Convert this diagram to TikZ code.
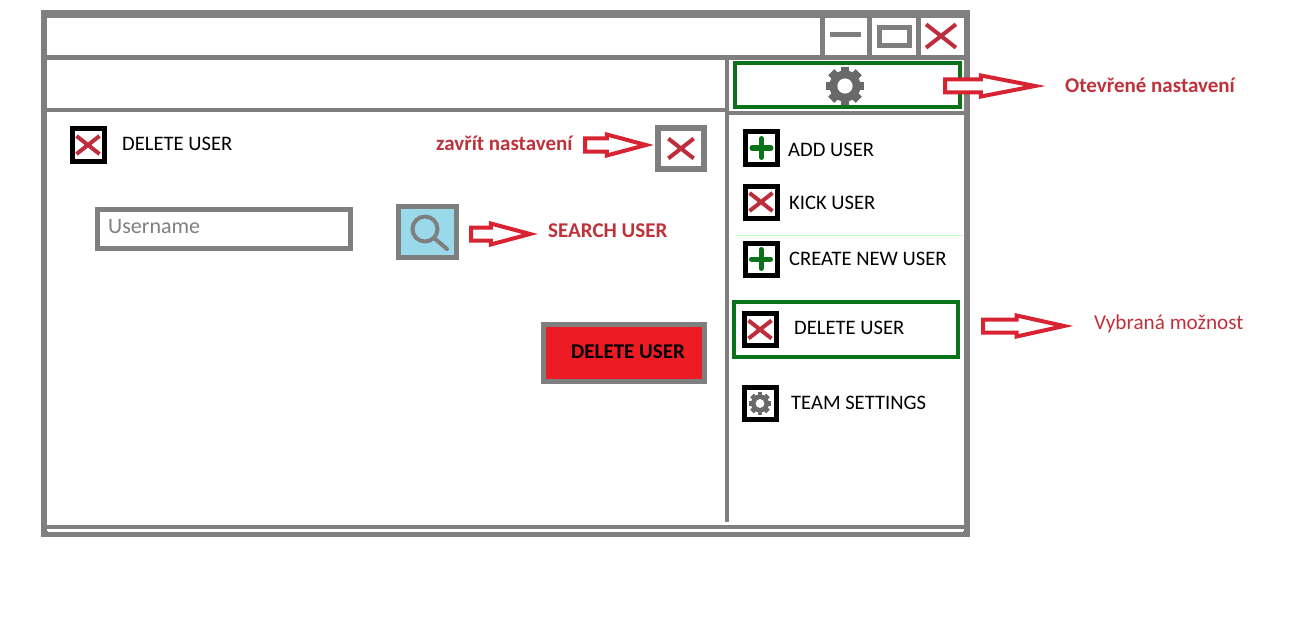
\documentclass[tikz,border=0pt]{standalone}
\usepackage{fontspec}
\setmainfont{Carlito}
\usepackage{xcolor}
\usetikzlibrary{shapes.arrows}
\definecolor{framegray}{RGB}{127,127,127}
\definecolor{gearcol}{RGB}{105,105,105}
\definecolor{okgreen}{RGB}{10,115,25}
\definecolor{crossred}{RGB}{190,45,60}
\definecolor{hintred}{RGB}{215,35,50}
\definecolor{labelred}{RGB}{190,50,60}
\definecolor{btnred}{RGB}{237,28,36}
\definecolor{searchblue}{RGB}{153,217,234}
\tikzset{
  frameline/.style={draw=framegray,line width=4},
  iconbox/.style={draw=black,line width=5,minimum width=32,minimum height=32,inner sep=0},
  graybox/.style={draw=framegray,line width=5,inner sep=0},
  greenbox/.style={draw=okgreen,line width=4,inner sep=0},
  menutext/.style={anchor=west,inner sep=0,font=\fontsize{20.6}{22}\selectfont},
  hinttext/.style={anchor=west,inner sep=0,text=labelred,font=\fontsize{21}{23}\selectfont\bfseries},
  hintarrow/.style={single arrow,draw=hintred,fill=white,line width=4,inner sep=4.5,outer sep=0,anchor=tail,
    minimum width=17,single arrow head extend=4,single arrow tip angle=30},
  pics/crossicon/.style={code={
    \draw[crossred,line width=4] (-1.15*#1,-.9*#1)--(1.15*#1,.9*#1) (-1.15*#1,.9*#1)--(1.15*#1,-.9*#1);}},
  pics/plusicon/.style={code={
    \draw[okgreen,line width=5,line cap=round] (-9.5,0)--(9.5,0) (0,-9.5)--(0,9.5);}},
  pics/gearicon/.style={code={
    \foreach \a in {0,45,...,315}
      \fill[gearcol,rotate=\a] (-.22*#1,-1.02*#1) rectangle (.22*#1,1.02*#1);
    \fill[gearcol] (0,0) circle(.82*#1);
    \fill[white] (0,0) circle(.4*#1);}},
}

\begin{document}
\begin{tikzpicture}[x=1pt,y=-1pt]
\useasboundingbox (0,0) rectangle (1314,623);
% window frame
\draw[frameline,line width=6] (44,13) rectangle (967,534);
\draw[frameline,line width=8] (41,14)--(970,14);
\draw[frameline,line width=5] (44,58)--(967,58);
\draw[frameline] (44,110)--(727,110) (727,113)--(967,113);
\draw[frameline] (727,58)--(727,522);
\draw[frameline] (44,527)--(967,527);
\draw[white,line width=1] (48,531.5)--(963,531.5);
\draw[green!25,line width=.8] (735,235)--(963,235);
% title bar buttons
\draw[frameline,line width=5] (822,16)--(822,58) (869,16)--(869,58) (918,16)--(918,58);
\draw[draw=framegray,line width=5] (830,35)--(861,35);
\node[graybox,minimum width=30,minimum height=18] (maxbtn) at (894,36.5) {};
\pic at (941,36) {crossicon=13};
% settings tab
\node[greenbox,minimum width=225,minimum height=44] (tabbox) at (847.5,85) {};
\pic at (845,86) {gearicon=19};
\node[hintarrow,minimum height=90,single arrow tip angle=22] (tabarrow) at (945,86) {};
\node[hinttext] (tablabel) at (1065,85) {Otevřené nastavení};
% menu on the right
\node[iconbox] (addbox) at (761.5,148) {};
\pic at (addbox.center) {plusicon};
\node[menutext] (addtext) at (788,150) {ADD USER};
\node[iconbox] (kickbox) at (761,202) {};
\pic at (kickbox.center) {crossicon=10};
\node[menutext] (kicktext) at (789,203) {KICK USER};
\node[iconbox] (createbox) at (761,259) {};
\pic at (createbox.center) {plusicon};
\node[menutext] (createtext) at (789,259) {CREATE NEW USER};
\node[greenbox,minimum width=224,minimum height=55] (delsel) at (845.5,329.5) {};
\node[iconbox] (delbox) at (760,329.5) {};
\pic at (delbox.center) {crossicon=10};
\node[menutext] (deltext) at (794,328) {DELETE USER};
\node[iconbox] (teambox) at (760,403.5) {};
\pic at (teambox.center) {gearicon=11};
\node[menutext] (teamtext) at (791,403) {TEAM SETTINGS};
\node[hintarrow,minimum height=81,single arrow tip angle=25] (selarrow) at (983,326) {};
\node[hinttext,font=\fontsize{21.2}{23}\selectfont] (sellabel) at (1094,324) {Vybraná možnost};
% left part
\node[iconbox] (headbox) at (88,145) {};
\pic at (headbox.center) {crossicon=10};
\node[menutext] (headtext) at (122,144) {DELETE USER};
\node[hinttext] (closelabel) at (436,143) {zavřít nastavení};
\node[hintarrow,minimum height=61] (closearrow) at (585,145) {};
\node[graybox,line width=6,minimum width=46,minimum height=41] (closebox) at (681,148.5) {};
\pic at (closebox.center) {crossicon=11};
\node[graybox,minimum width=253,minimum height=39] (namebox) at (223.5,228.5) {};
\node[menutext,text=gray,font=\fontsize{22}{24}\selectfont] (nametext) at (108,227) {Username};
\node[graybox,fill=searchblue,minimum width=58,minimum height=51] (searchbox) at (427,231.5) {};
\draw[framegray,line width=4] (425,229) circle(12.5);
\draw[framegray,line width=4,line cap=round] (434,238)--(447,249);
\node[hintarrow,minimum height=59] (searcharrow) at (471,234) {};
\node[hinttext] (searchlabel) at (548,231) {SEARCH USER};
\node[graybox,fill=btnred,minimum width=161,minimum height=57] (delbtn) at (623.5,352.5) {};
\node[inner sep=0,font=\fontsize{21}{23}\selectfont\bfseries] (delbtntext) at (628,352) {DELETE USER};
\end{tikzpicture}
\end{document}
